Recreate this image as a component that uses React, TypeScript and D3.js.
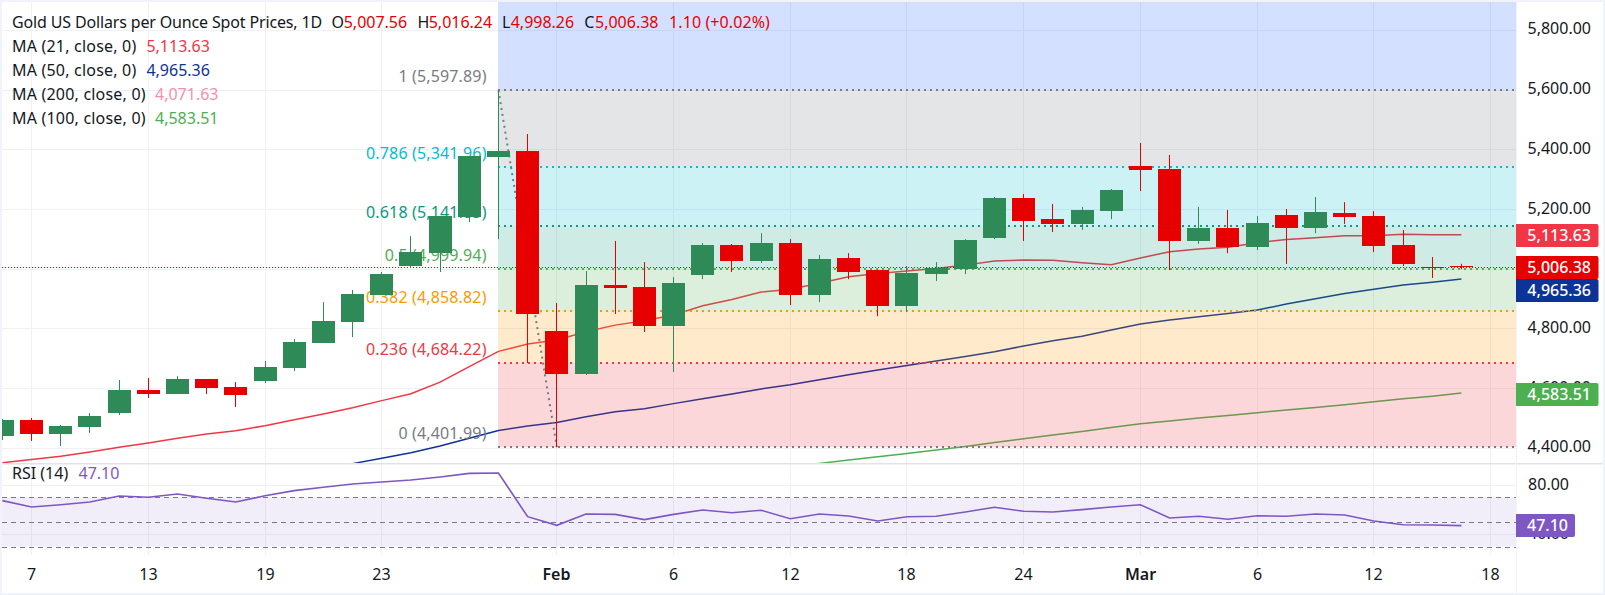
import React from "react";
import * as d3 from "d3";

const opens = [4439,4493,4446,4470,4516,4594,4580,4630,4604,4624,4667,4751,4821,4912,5009,5052,5173,5374,5394,4791,4647,4945,4939,4808,4979,5079,5026,5086,4912,5036,4995.5,4875,4982,4999,5103,5237,5166,5150,5193,5344,5334,5093,5136,5073,5180,5136,5186,5176,5079,5007,5007.56];
const highs = [4496,4500,4476,4516,4627,4634,4640,4630,4620,4691,4764,4888,4929,4989,5109,5176,5377,5597.89,5451,4885,4992,5093,5022,4972,5086,5083,5119,5099,5046,5052,4996.5,5009,5022,5099,5240,5250,5217,5207,5267,5421,5381,5207,5197,5176,5200,5240,5223,5193,5129.5,5039,5016.24];
const lows = [4426,4423,4406,4450,4510,4567,4580,4580,4537,4617,4657,4751,4771,4912,5002,4989,5156,5099,4684,4401.99,4644,4848,4788,4654,4965,4989,5019,4878,4888,4965,4841,4855,4959,4982,5099,5093,5123,5130,5166,5260,4995.5,5083,5052,5062.5,5016,5119,5150,5056,5009,4969,4998.26];
const closes = [4493,4446,4473,4506,4594,4580,4630,4600,4577,4671,4754,4825,4915,4982,5056,5176,5377,5394,4848,4647,4945,4935,4808,4952,5079,5026,5086,4912,5032,4989,4875,4985,5002,5096,5237,5160,5150,5197,5263.5,5330,5093,5136,5073,5153,5136,5190,5173,5076,5016,5004,5006.38];

const ma21 = [4350,4361,4372,4386,4401.5,4416,4432,4446,4457,4474,4494,4513,4534,4558,4581,4620,4672,4723,4748,4761,4789,4811,4826,4845,4876,4897,4922,4931,4951,4973,4984,4992,5001,5012,5026,5029,5028,5020,5013,5036,5057,5066,5071.5,5087,5098,5104,5110,5110,5115,5114,5113.63];
const ma50Start = 12;
const ma50 = [4347,4365,4383.5,4406,4432,4458,4473,4485,4504,4521,4531,4548,4564,4580,4597,4611,4628,4645,4660.5,4676,4691,4706,4722,4741,4759,4774,4794.5,4815,4828,4839,4850,4861.5,4881.6,4899,4917,4931,4945,4955,4965.36];
const ma100Start = 27;
const ma100 = [4335.5,4347.6,4359,4369.7,4381,4392.5,4404,4417.6,4430,4442.7,4455,4468,4480.6,4489.6,4499.7,4508,4517.5,4526.5,4535,4544,4554,4564,4573,4583.51];
const rsi = [67.3,62.2,64,66.2,71,70,72.7,69.2,66.2,71.3,75.4,78.1,80.8,82.4,84,86.5,89.4,89.7,54.3,47.3,56.5,56.2,51.9,56.2,59.7,57.5,59.5,52.7,56.5,54.9,50.8,54.3,54.6,58.1,61.9,58.7,58.1,60,62.2,64,53.2,54.6,52.2,55.1,54.6,56.5,55.7,50.8,47.8,47.6,47.1];

const xTickIdx = [1,5,9,13,19,23,27,31,35,39,43,47,51];
const xTickLabels = ["7","13","19","23","Feb","6","12","18","24","Mar","6","12","18"];
const priceTicks = [5800,5600,5400,5200,5000,4800,4600,4400];
const rsiGrid = [80,40];
const rsiDashed = [70,50,30];

const fibRatios = ["1","0.786","0.618","0.5","0.382","0.236","0"];
const fibPrices = [5597.89,5341.96,5141.83,4999.94,4858.82,4684.22,4401.99];
const fibColors = ["#787b86","#00bcd4","#089981","#4caf50","#ff9800","#f23645","#787b86"];
const zoneColors = ["#787b86","#00bcd4","#089981","#4caf50","#ff9800","#f23645"];

const legendRows = [
  { label: "MA (21, close, 0)", value: "5,113.63", color: "#f23645", vx: 146.4 },
  { label: "MA (50, close, 0)", value: "4,965.36", color: "#0d3399", vx: 146.4 },
  { label: "MA (200, close, 0)", value: "4,071.63", color: "#f48fb1", vx: 155 },
  { label: "MA (100, close, 0)", value: "4,583.51", color: "#4caf50", vx: 155 },
];

const GREEN = "#2e8b57";
const RED = "#e60000";
const FONT = "'Noto Sans', sans-serif";
const TXT = "#131722";
const W = 1605, H = 595, L = 2, T = 2, PR = 1516, PB = 463, RB = 555;
const fmt = d3.format(",.2f");
const FS = 16;

export default function App() {
  const x = d3.scaleLinear().domain([0, 50]).range([2.4, 1461.4]);
  const y = d3.scaleLinear().domain([4400, 5800]).range([447.8, 29.9]);
  const ry = d3.scaleLinear().domain([30, 70]).range([546.7, 497.3]);
  const line = d3.line<number>().x((_, i) => x(i)).y((d) => y(d));
  const offLine = (start: number) => d3.line<number>().x((_, i) => x(i + start)).y((d) => y(d));
  const rLine = d3.line<number>().x((_, i) => x(i)).y((d) => ry(d));
  const cx = (i: number) => Math.round(x(i) - 0.5) + 0.5;
  const fibX = cx(17) - 0.5;
  const fib = fibPrices.map((p) => Math.round(y(p)));
  const bw = 23;

  const tags = [
    { t: "5,113.63", c: 235.5, fill: "#f23645" },
    { t: "5,006.38", c: 267.5, fill: RED },
    { t: "4,965.36", c: 290.5, fill: "#0d3399" },
    { t: "4,583.51", c: 394.5, fill: "#4caf50" },
  ];

  return (
    <svg width={W} height={H} viewBox={`0 0 ${W} ${H}`} style={{ position: "absolute", left: 0, top: 0, display: "block" }} fontFamily={FONT}>
      <defs>
        <clipPath id="main"><rect x={L} y={T} width={PR - L} height={PB - T} /></clipPath>
        <clipPath id="rp"><rect x={L} y={PB} width={PR - L} height={RB - PB} /></clipPath>
      </defs>
      <rect width={W} height={H} fill="#f0f3fa" />
      <rect x={L} y={T} width={W - 4} height={H - 4} fill="#ffffff" />

      {/* grid */}
      {priceTicks.map((p) => (
        <line key={p} x1={L} x2={PR} y1={Math.round(y(p)) + 0.5} y2={Math.round(y(p)) + 0.5} stroke="#eff1f5" />
      ))}
      {rsiGrid.map((r) => (
        <line key={r} x1={L} x2={PR} y1={Math.round(ry(r)) + 0.5} y2={Math.round(ry(r)) + 0.5} stroke="#eff1f5" />
      ))}
      {xTickIdx.map((i) => (
        <line key={i} x1={cx(i)} x2={cx(i)} y1={T} y2={RB} stroke="#eff1f5" />
      ))}

      {/* RSI pane */}
      <rect x={L} y={ry(70)} width={PR - L} height={ry(30) - ry(70)} fill="#7e57c2" fillOpacity={0.1} />
      {rsiDashed.map((r) => (
        <line key={r} x1={L} x2={PR} y1={Math.round(ry(r)) + 0.5} y2={Math.round(ry(r)) + 0.5} stroke="#787b86" strokeDasharray="5 4" />
      ))}
      <path d={rLine(rsi) ?? ""} fill="none" stroke="#7e57c2" strokeWidth={1.6} clipPath="url(#rp)" />

      {/* moving averages */}
      <g clipPath="url(#main)" fill="none" strokeWidth={1.5}>
        <path d={offLine(ma100Start)(ma100) ?? ""} stroke="#4caf50" />
        <path d={offLine(ma50Start)(ma50) ?? ""} stroke="#0d3399" />
        <path d={line(ma21) ?? ""} stroke="#f23645" />
      </g>

      {/* fib zones */}
      <rect x={fibX} y={T} width={PR - fibX} height={fib[0] - T} fill="#2962ff" fillOpacity={0.2} />
      {zoneColors.map((c, i) => (
        <rect key={c + i} x={fibX} y={fib[i]} width={PR - fibX} height={fib[i + 1] - fib[i]} fill={c} fillOpacity={0.2} />
      ))}
      {fibColors.map((c, i) => (
        <line key={i} x1={fibX} x2={PR} y1={fib[i]} y2={fib[i]} stroke={c} strokeWidth={2} strokeDasharray="2 4" />
      ))}
      {fibRatios.map((r, i) => (
        <text key={r} x={486.6} y={fib[i] - 8.5} textAnchor="end" fontSize={FS} letterSpacing={0.15} fill={fibColors[i]}>
          {`${r} (${fmt(fibPrices[i])})`}
        </text>
      ))}
      <line x1={x(17)} y1={y(5597.89)} x2={x(19)} y2={y(4401.99)} stroke="#787b86" strokeWidth={2} strokeDasharray="2 4" />

      {/* last price line */}
      <line x1={L} x2={PR} y1={Math.round(y(5006.38)) + 0.5} y2={Math.round(y(5006.38)) + 0.5} stroke={RED} strokeDasharray="1 2" />

      {/* candles */}
      <g clipPath="url(#main)">
        {closes.map((c, i) => {
          const color = c >= opens[i] ? GREEN : RED;
          const top = Math.round(y(Math.max(c, opens[i])));
          const bot = Math.round(y(Math.min(c, opens[i])));
          return (
            <g key={i}>
              <line x1={cx(i)} x2={cx(i)} y1={y(highs[i])} y2={y(lows[i])} stroke={color} />
              <rect x={cx(i) - bw / 2} y={top} width={bw} height={Math.max(1, bot - top)} fill={color} />
            </g>
          );
        })}
      </g>

      {/* separators */}
      <rect x={L} y={PB} width={W - 4} height={1.5} fill="#e0e3eb" />
      <rect x={PR} y={T} width={1} height={H - 4} fill="#f0f3fa" />

      {/* legend */}
      <g fontSize={FS}>
        <text x={12} y={27.5} fill={TXT} letterSpacing={-0.15}>Gold US Dollars per Ounce Spot Prices, 1D</text>
        <text x={331.6} y={27.5} fill={TXT}>O</text>
        <text x={343.7} y={27.5} fill={RED}>5,007.56</text>
        <text x={417.4} y={27.5} fill={TXT}>H</text>
        <text x={428.7} y={27.5} fill={RED}>5,016.24</text>
        <text x={502} y={27.5} fill={TXT}>L</text>
        <text x={510.7} y={27.5} fill={RED}>4,998.26</text>
        <text x={584.3} y={27.5} fill={TXT}>C</text>
        <text x={595} y={27.5} fill={RED}>5,006.38</text>
        <text x={669} y={27.5} fill={RED} letterSpacing={0.1}>1.10 (+0.02%)</text>
        {legendRows.map((r, i) => (
          <g key={r.label}>
            <text x={12} y={51.5 + i * 24} fill={TXT} letterSpacing={0.2}>{r.label}</text>
            <text x={r.vx} y={51.5 + i * 24} fill={r.color}>{r.value}</text>
          </g>
        ))}
        <text x={12} y={478.5} fill={TXT}>RSI (14)</text>
        <text x={78.5} y={478.5} fill="#7e57c2">47.10</text>
      </g>

      {/* right axis */}
      <g fontSize={FS} fill={TXT}>
        {priceTicks.map((p) => (
          <text key={p} x={1591} y={y(p) + 4.5} textAnchor="end">{fmt(p)}</text>
        ))}
        {rsiGrid.map((r) => (
          <text key={r} x={1569} y={ry(r) + 5} textAnchor="end">{r.toFixed(2)}</text>
        ))}
      </g>
      {tags.map((t) => (
        <g key={t.t}>
          <path d={`M${PR},${t.c - 11.5}h80.5a2,2 0 0 1 2,2v19a2,2 0 0 1 -2,2h-80.5z`} fill={t.fill} />
          <text x={1591} y={t.c + 5.5} textAnchor="end" fontSize={FS} fontWeight={500} fill="#ffffff">{t.t}</text>
        </g>
      ))}
      <path d={`M${PR},514h57a2,2 0 0 1 2,2v19a2,2 0 0 1 -2,2h-57z`} fill="#7e57c2" />
      <text x={1527} y={531} fontSize={FS} fontWeight={500} fill="#ffffff">47.10</text>

      {/* time axis */}
      <g fontSize={FS} fill={TXT} textAnchor="middle">
        {xTickIdx.map((i, k) => (
          <text key={i} x={cx(i)} y={579.5} fontWeight={/[A-Z]/.test(xTickLabels[k]) ? 600 : 400}>{xTickLabels[k]}</text>
        ))}
      </g>
    </svg>
  );
}
